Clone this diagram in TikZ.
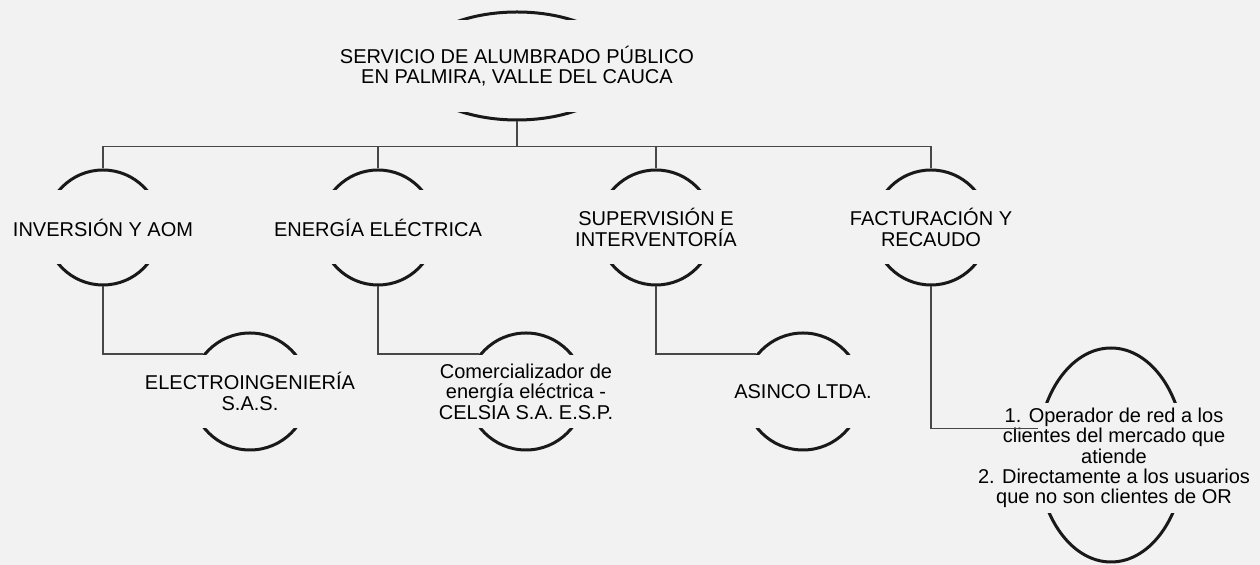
\documentclass[tikz,border=0pt]{standalone}
\usepackage{fontspec}
\setmainfont{Liberation Sans}
\usetikzlibrary{shapes.geometric}
\definecolor{paper}{gray}{0.95}

\begin{document}
\begin{tikzpicture}[
    x=0.5pt, y=-0.5pt,
    font=\fontsize{10}{10.2}\selectfont,
    orb/.style={
        ellipse,
        draw=black!90,
        line width=1.5pt,
        inner sep=0pt,
        minimum size=57.5pt
    },
    band/.style={
        fill=paper,
        inner sep=0pt,
        align=center,
        minimum width=64pt,
        minimum height=37pt
    },
    link/.style={black!72, line width=0.9pt}
]

% Background
\fill[paper] (0,0) rectangle (1260,565);
\useasboundingbox (0,0) rectangle (1260,565);

% =====================================================
% OUTLINES
% =====================================================

% Level 0
\node[orb, minimum width=105pt, minimum height=54pt] (servicio) at (517,66) {};

% Level 1
\node[orb] (inversion)   at (103,227.5) {};
\node[orb] (energia)     at (378,227.5) {};
\node[orb] (supervision) at (656,227.5) {};
\node[orb] (facturacion) at (931,227.5) {};

% Level 2
\node[orb, minimum size=58.5pt] (electro) at (250,391.5) {};
\node[orb, minimum size=58.5pt] (celsia)  at (526,391.5) {};
\node[orb, minimum size=58.5pt] (asinco)  at (803,391.5) {};
\node[orb, minimum width=73.5pt, minimum height=107pt] (operador) at (1111,455) {};

% =====================================================
% TEXTS
% =====================================================

\node[band, minimum width=110pt, minimum height=46pt] (servicio-txt) at (517,66)
    {SERVICIO DE ALUMBRADO PÚBLICO\\EN PALMIRA, VALLE DEL CAUCA};

\node[band] (inversion-txt)   at (103,227.5) {INVERSIÓN Y AOM};
\node[band] (energia-txt)     at (378,227.5) {ENERGÍA ELÉCTRICA};
\node[band] (supervision-txt) at (656,227.5) {SUPERVISIÓN E\\INTERVENTORÍA};
\node[band] (facturacion-txt) at (931,227.5) {FACTURACIÓN Y\\RECAUDO};

\node[band, minimum height=36.5pt] (electro-txt) at (250,391.5) {ELECTROINGENIERÍA\\S.A.S.};
\node[band, minimum height=36.5pt] (celsia-txt)  at (526,391.5)
    {Comercializador de\\energía eléctrica -\\CELSIA S.A. E.S.P.};
\node[band, minimum height=36.5pt] (asinco-txt)  at (803,391.5) {ASINCO LTDA.};
\node[band, minimum width=78pt, minimum height=55pt] (operador-txt) at (1114,458)
    {1. Operador de red a los\\clientes del mercado que\\atiende\\2. Directamente a los usuarios\\que no son clientes de OR};

% =====================================================
% CONNECTORS
% =====================================================

\coordinate (bus) at (517,146.5);
\foreach \n in {inversion, energia, supervision, facturacion}
    \draw[link] (servicio.south) |- (bus) -| (\n.north);

\draw[link] (inversion.south)   |- (electro.141);
\draw[link] (energia.south)     |- (celsia.141);
\draw[link] (supervision.south) |- (asinco.141);
\draw[link] (facturacion.south) |- (operador.160);

\end{tikzpicture}
\end{document}
